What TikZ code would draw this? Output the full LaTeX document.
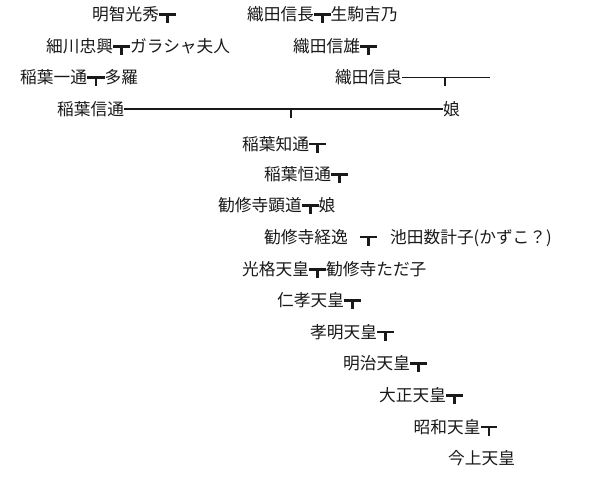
\documentclass[tikz,border=0pt]{standalone}
\usepackage{fontspec}
\setmainfont{Noto Sans CJK JP}
\usetikzlibrary{calc}
\tikzset{
  person/.style={anchor=west, inner sep=0pt, text height=12.6pt, text depth=0pt,
    font=\fontsize{16.7pt}{20pt}\selectfont, text=black!90},
  teebar/.style={line width=2.6pt, color=black!90},
  thinbar/.style={line width=1.2pt, color=black!90}
}
\begin{document}
\begin{tikzpicture}[x=1pt, y=-1pt]
  \useasboundingbox (0,0) rectangle (590,493);

  % People, row by row
  \node[person] (mitsuhide)  at (92,14.5)   {明智光秀};
  \node[person] (nobunaga)   at (247,14.5)  {織田信長};
  \node[person] (yoshino)    at (330.5,14.5) {生駒吉乃};
  \node[person] (tadaoki)    at (46,46.5)   {細川忠興};
  \node[person] (gracia)     at (130,46.5)  {ガラシャ夫人};
  \node[person] (nobukatsu)  at (293,46.5)  {織田信雄};
  \node[person] (kazumichi)  at (20,77.5)   {稲葉一通};
  \node[person] (tara)       at (104.5,77.5) {多羅};
  \node[person] (nobuyoshi)  at (335,77.5)  {織田信良};
  \node[person] (nobumichi)  at (57,109)    {稲葉信通};
  \node[person] (musumeA)    at (443,109)   {娘};
  \node[person] (tomomichi)  at (242,144)   {稲葉知通};
  \node[person] (tsunemichi) at (264,174.5) {稲葉恒通};
  \node[person] (akimichi)   at (218,205.5) {勧修寺顕道};
  \node[person] (musumeB)    at (318.5,205.5) {娘};
  \node[person] (tsuneyasu)  at (264,237)   {勧修寺経逸};
  \node[person] (kazuko)     at (390,237)   {池田数計子(かずこ？)};
  \node[person] (kokaku)     at (242,269.5) {光格天皇};
  \node[person] (tadako)     at (326,269.5) {勧修寺ただ子};
  \node[person] (ninko)      at (277,300.5) {仁孝天皇};
  \node[person] (komei)      at (310,332)   {孝明天皇};
  \node[person] (meiji)      at (343,363.5) {明治天皇};
  \node[person] (taisho)     at (379,395.5) {大正天皇};
  \node[person] (showa)      at (413.5,427) {昭和天皇};
  \node[person] (kinjo)      at (448,458)   {今上天皇};

  % Couples joined by a heavy tee
  \foreach \a/\b in {nobunaga/yoshino, tadaoki/gracia, kazumichi/tara,
                     akimichi/musumeB, kokaku/tadako} {
    \draw[teebar] (\a.east) -- (\b.west);
    \draw[teebar] ($(\a.east)!0.5!(\b.west)$) -- ++(0,8.5);
  }

  % Tees with no partner shown
  \foreach \n in {mitsuhide, nobukatsu, tomomichi, tsunemichi,
                  ninko, komei, meiji, taisho, showa} {
    \coordinate (\n-r) at ($(\n.east)+(16.7,0)$);
    \draw[teebar] (\n.east) -- (\n-r);
    \draw[teebar] ($(\n.east)!0.5!(\n-r)$) -- ++(0,8.5);
  }

  % Free tee between Tsuneyasu and Kazuko
  \coordinate (tk-l) at (359.5,237);
  \coordinate (tk-r) at (377,237);
  \draw[teebar] (tk-l) -- (tk-r);
  \draw[teebar] ($(tk-l)!0.5!(tk-r)$) -- ++(0,8.5);

  % Long thin lines
  \draw[thinbar] (nobumichi.east) -- (musumeA.west);
  \draw[thinbar] (291,109) -- ++(0,8.5);
  \coordinate (nobuyoshi-r) at (490,77.5);
  \draw[thinbar] (nobuyoshi.east) -- (nobuyoshi-r);
  \draw[thinbar] (445,77.5) -- ++(0,8.5);
\end{tikzpicture}
\end{document}
